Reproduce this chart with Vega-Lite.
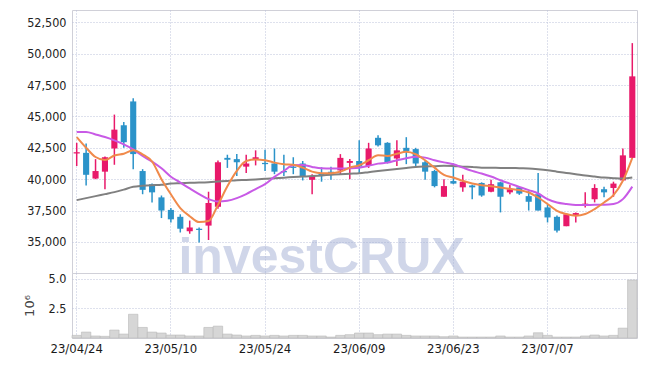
{
  "$schema": "https://vega.github.io/schema/vega-lite/v6.json",
  "padding": {"left": 22, "top": 9, "right": 9, "bottom": 5},
  "background": "white",
  "spacing": 0,
  "bounds": "flush",
  "config": {
    "view": {"stroke": "#d0d0d8", "strokeWidth": 1},
    "axis": {
      "labelFont": "DejaVu Sans Condensed, sans-serif",
      "labelColor": "#222222",
      "gridColor": "#bcc2da",
      "gridDash": [1, 2],
      "gridWidth": 1,
      "ticks": false,
      "domain": false
    }
  },
  "data": {"values": [
    {"d":"23/04/24","o":42050,"h":42900,"l":41050,"c":42150,"v":220000,"m5":43360,"m10":43760,"m60":38330},
    {"d":"23/04/25","o":42100,"h":42850,"l":39500,"c":40350,"v":500000,"m5":42510,"m10":43770,"m60":38490},
    {"d":"23/04/26","o":40050,"h":41600,"l":40000,"c":40650,"v":170000,"m5":41770,"m10":43570,"m60":38650},
    {"d":"23/04/27","o":40600,"h":41800,"l":39200,"c":41750,"v":140000,"m5":41530,"m10":43360,"m60":38810},
    {"d":"23/04/28","o":42450,"h":45150,"l":41150,"c":43950,"v":670000,"m5":41890,"m10":43100,"m60":38970},
    {"d":"23/05/02","o":44300,"h":44550,"l":42500,"c":42950,"v":330000,"m5":42030,"m10":42780,"m60":39170},
    {"d":"23/05/03","o":46200,"h":46450,"l":40800,"c":42000,"v":2000000,"m5":42300,"m10":42380,"m60":39390},
    {"d":"23/05/04","o":40650,"h":40800,"l":38800,"c":39150,"v":890000,"m5":41980,"m10":41850,"m60":39470},
    {"d":"23/05/08","o":39600,"h":39650,"l":38150,"c":38950,"v":500000,"m5":41410,"m10":41400,"m60":39520},
    {"d":"23/05/09","o":38550,"h":38700,"l":36900,"c":37500,"v":420000,"m5":40000,"m10":40870,"m60":39550},
    {"d":"23/05/10","o":37550,"h":37700,"l":36550,"c":36800,"v":250000,"m5":38800,"m10":40200,"m60":39650},
    {"d":"23/05/11","o":37000,"h":37200,"l":35750,"c":36050,"v":250000,"m5":37700,"m10":39730,"m60":39680},
    {"d":"23/05/12","o":35850,"h":36700,"l":35650,"c":36150,"v":170000,"m5":37050,"m10":39260,"m60":39710},
    {"d":"23/05/15","o":36050,"h":36150,"l":34950,"c":35950,"v":170000,"m5":36580,"m10":38810,"m60":39730},
    {"d":"23/05/16","o":36300,"h":39000,"l":35150,"c":38100,"v":890000,"m5":36660,"m10":38410,"m60":39760},
    {"d":"23/05/17","o":37800,"h":41500,"l":37650,"c":41350,"v":1000000,"m5":37950,"m10":38220,"m60":39810},
    {"d":"23/05/18","o":41700,"h":41950,"l":40900,"c":41550,"v":330000,"m5":39430,"m10":38280,"m60":39860},
    {"d":"23/05/19","o":41600,"h":42000,"l":40250,"c":41350,"v":250000,"m5":40660,"m10":38490,"m60":39920},
    {"d":"23/05/22","o":41000,"h":41950,"l":40500,"c":41250,"v":170000,"m5":41450,"m10":38810,"m60":39940},
    {"d":"23/05/23","o":41600,"h":42300,"l":41100,"c":41750,"v":220000,"m5":41560,"m10":39210,"m60":39980},
    {"d":"23/05/24","o":41300,"h":42350,"l":40650,"c":41200,"v":170000,"m5":41510,"m10":39600,"m60":40030},
    {"d":"23/05/25","o":41250,"h":42450,"l":40400,"c":40600,"v":220000,"m5":41320,"m10":40180,"m60":40080},
    {"d":"23/05/26","o":40650,"h":41950,"l":40250,"c":40550,"v":170000,"m5":41190,"m10":40660,"m60":40120},
    {"d":"23/05/30","o":41000,"h":41750,"l":40400,"c":40900,"v":220000,"m5":41150,"m10":41110,"m60":40170},
    {"d":"23/05/31","o":41250,"h":41450,"l":39900,"c":40200,"v":220000,"m5":40920,"m10":41130,"m60":40210},
    {"d":"23/06/01","o":39950,"h":40400,"l":38800,"c":40250,"v":170000,"m5":40600,"m10":40980,"m60":40250},
    {"d":"23/06/02","o":40450,"h":40950,"l":39800,"c":40250,"v":170000,"m5":40480,"m10":40870,"m60":40300},
    {"d":"23/06/05","o":40600,"h":41000,"l":39950,"c":40400,"v":80000,"m5":40480,"m10":40850,"m60":40350},
    {"d":"23/06/07","o":40700,"h":42000,"l":40400,"c":41700,"v":220000,"m5":40600,"m10":40850,"m60":40400},
    {"d":"23/06/08","o":41300,"h":41600,"l":40000,"c":41450,"v":280000,"m5":40920,"m10":40870,"m60":40440},
    {"d":"23/06/09","o":41450,"h":43100,"l":40500,"c":41000,"v":420000,"m5":41110,"m10":40920,"m60":40470},
    {"d":"23/06/12","o":41050,"h":42900,"l":40900,"c":42450,"v":420000,"m5":41510,"m10":41060,"m60":40560},
    {"d":"23/06/13","o":43300,"h":43500,"l":42600,"c":42700,"v":280000,"m5":41910,"m10":41240,"m60":40650},
    {"d":"23/06/14","o":42900,"h":42950,"l":41250,"c":41300,"v":330000,"m5":41850,"m10":41320,"m60":40730},
    {"d":"23/06/15","o":41650,"h":43100,"l":41050,"c":42300,"v":330000,"m5":42030,"m10":41510,"m60":40820},
    {"d":"23/06/16","o":42500,"h":43350,"l":41200,"c":42250,"v":220000,"m5":42190,"m10":41670,"m60":40900},
    {"d":"23/06/19","o":42400,"h":42500,"l":41050,"c":41250,"v":170000,"m5":41990,"m10":41790,"m60":40970},
    {"d":"23/06/20","o":41350,"h":41500,"l":39950,"c":40600,"v":170000,"m5":41510,"m10":41720,"m60":41010},
    {"d":"23/06/21","o":40650,"h":40750,"l":39350,"c":39450,"v":170000,"m5":40920,"m10":41510,"m60":41040},
    {"d":"23/06/22","o":38600,"h":40000,"l":38600,"c":39450,"v":110000,"m5":40340,"m10":41340,"m60":41080},
    {"d":"23/06/23","o":39850,"h":41250,"l":39600,"c":39650,"v":170000,"m5":40130,"m10":41190,"m60":41060},
    {"d":"23/06/26","o":39350,"h":40350,"l":39000,"c":39800,"v":80000,"m5":39870,"m10":40920,"m60":41000},
    {"d":"23/06/27","o":39500,"h":39550,"l":38400,"c":39350,"v":80000,"m5":39650,"m10":40660,"m60":40980},
    {"d":"23/06/28","o":39700,"h":39750,"l":38600,"c":38700,"v":80000,"m5":39520,"m10":40450,"m60":40920},
    {"d":"23/06/29","o":39000,"h":39950,"l":38950,"c":39600,"v":80000,"m5":39440,"m10":40210,"m60":40920},
    {"d":"23/06/30","o":39750,"h":39800,"l":37350,"c":38600,"v":170000,"m5":39330,"m10":39920,"m60":40900},
    {"d":"23/07/03","o":38950,"h":39550,"l":38800,"c":39200,"v":80000,"m5":39230,"m10":39650,"m60":40900},
    {"d":"23/07/04","o":39350,"h":39450,"l":38750,"c":38850,"v":80000,"m5":39130,"m10":39390,"m60":40870},
    {"d":"23/07/05","o":38650,"h":39050,"l":37500,"c":38200,"v":170000,"m5":38940,"m10":39130,"m60":40850},
    {"d":"23/07/06","o":38800,"h":40500,"l":37500,"c":37500,"v":440000,"m5":38540,"m10":38860,"m60":40790},
    {"d":"23/07/07","o":37750,"h":38000,"l":36550,"c":36950,"v":220000,"m5":38020,"m10":38410,"m60":40710},
    {"d":"23/07/10","o":37000,"h":37100,"l":35750,"c":35900,"v":80000,"m5":37480,"m10":38140,"m60":40600},
    {"d":"23/07/11","o":36250,"h":37300,"l":36250,"c":37200,"v":80000,"m5":37220,"m10":38020,"m60":40500},
    {"d":"23/07/12","o":37150,"h":37350,"l":36550,"c":37300,"v":80000,"m5":37090,"m10":37940,"m60":40400},
    {"d":"23/07/13","o":37900,"h":38950,"l":37750,"c":38050,"v":170000,"m5":37220,"m10":37940,"m60":40290},
    {"d":"23/07/14","o":38400,"h":39600,"l":38150,"c":39300,"v":250000,"m5":37620,"m10":37960,"m60":40210},
    {"d":"23/07/17","o":39200,"h":39400,"l":38550,"c":38950,"v":170000,"m5":38140,"m10":37960,"m60":40130},
    {"d":"23/07/18","o":39300,"h":39800,"l":38600,"c":39650,"v":220000,"m5":38730,"m10":38020,"m60":40080},
    {"d":"23/07/19","o":39900,"h":42450,"l":39900,"c":41900,"v":830000,"m5":39870,"m10":38410,"m60":40050},
    {"d":"23/07/20","o":41700,"h":50850,"l":41700,"c":48200,"v":4890000,"m5":41700,"m10":39410,"m60":40130}
  ]},
  "vconcat": [
    {
      "width": 565,
      "height": 263,
      "encoding": {
        "x": {
          "field": "d", "type": "ordinal",
          "scale": {"paddingInner": 0, "paddingOuter": 0},
          "axis": {"labels": false, "title": null, "grid": true, "bandPosition": 0.5,
                   "values": ["23/04/24","23/05/10","23/05/24","23/06/09","23/06/23","23/07/07"]}
        }
      },
      "layer": [
        {
          "data": {"values": [{}]},
          "mark": {"type": "text", "text": "investCRUX", "font": "Liberation Sans, Arial, sans-serif", "fontWeight": "bold", "fontSize": 50, "fill": "#a2aed5", "opacity": 0.5, "align": "center", "baseline": "alphabetic"},
          "encoding": {
            "x": {"datum": "23/06/02", "type": "ordinal"},
            "y": {"datum": 32520, "type": "quantitative",
                  "scale": {"domain": [32520, 53490], "nice": false, "zero": false},
                  "axis": {"title": null, "values": [35000, 37500, 40000, 42500, 45000, 47500, 50000, 52500], "labelExpr": "format(datum.value, ',')", "labelFontSize": 12.5, "labelPadding": 6, "grid": true}}
          }
        },
        {
          "mark": {"type": "rule", "strokeWidth": 1.5},
          "encoding": {
            "y": {"field": "l", "type": "quantitative",
                  "axis": {"title": null, "values": [35000, 37500, 40000, 42500, 45000, 47500, 50000, 52500], "labelExpr": "format(datum.value, ',')", "labelFontSize": 12.5, "labelPadding": 6, "grid": true}},
            "y2": {"field": "h"},
            "color": {"condition": {"test": "datum.c >= datum.o", "value": "#e8196a"}, "value": "#2b93c9"}
          }
        },
        {
          "mark": {"type": "bar", "width": {"band": 0.65}},
          "encoding": {
            "y": {"field": "o", "type": "quantitative",
                  "axis": {"title": null, "values": [35000, 37500, 40000, 42500, 45000, 47500, 50000, 52500], "labelExpr": "format(datum.value, ',')", "labelFontSize": 12.5, "labelPadding": 6, "grid": true}},
            "y2": {"field": "c"},
            "color": {"condition": {"test": "datum.c >= datum.o", "value": "#e8196a"}, "value": "#2b93c9"}
          }
        },
        {
          "mark": {"type": "line", "color": "#808080", "strokeWidth": 2, "interpolate": "monotone"},
          "encoding": {"y": {"field": "m60", "type": "quantitative",
                  "axis": {"title": null, "values": [35000, 37500, 40000, 42500, 45000, 47500, 50000, 52500], "labelExpr": "format(datum.value, ',')", "labelFontSize": 12.5, "labelPadding": 6, "grid": true}}}
        },
        {
          "mark": {"type": "line", "color": "#c85ae6", "strokeWidth": 2, "interpolate": "monotone"},
          "encoding": {"y": {"field": "m10", "type": "quantitative",
                  "axis": {"title": null, "values": [35000, 37500, 40000, 42500, 45000, 47500, 50000, 52500], "labelExpr": "format(datum.value, ',')", "labelFontSize": 12.5, "labelPadding": 6, "grid": true}}}
        },
        {
          "mark": {"type": "line", "color": "#f08a4b", "strokeWidth": 2, "interpolate": "monotone"},
          "encoding": {"y": {"field": "m5", "type": "quantitative",
                  "axis": {"title": null, "values": [35000, 37500, 40000, 42500, 45000, 47500, 50000, 52500], "labelExpr": "format(datum.value, ',')", "labelFontSize": 12.5, "labelPadding": 6, "grid": true}}}
        }
      ]
    },
    {
      "width": 565,
      "height": 65,
      "mark": {"type": "bar", "fill": "#d6d6d6", "stroke": "#b8b8b8", "strokeWidth": 0.6, "width": {"band": 1}},
      "encoding": {
        "x": {
          "field": "d", "type": "ordinal",
          "scale": {"paddingInner": 0, "paddingOuter": 0},
          "axis": {"title": null, "grid": true, "bandPosition": 0.5, "labelAngle": 0, "labelFontSize": 13, "labelPadding": 4, "labelColor": "#1a1a1a",
                   "values": ["23/04/24","23/05/10","23/05/24","23/06/09","23/06/23","23/07/07"]}
        },
        "y": {
          "field": "v", "type": "quantitative",
          "scale": {"domain": [0, 5480000], "nice": false},
          "axis": {"values": [2500000, 5000000], "labelExpr": "format(datum.value / 1000000, '.1f')", "labelFontSize": 12.5, "labelPadding": 6, "grid": true,
                   "title": "10⁶", "titleFont": "DejaVu Sans", "titleFontSize": 13, "titleFontWeight": "normal", "titleColor": "#444444", "titlePadding": 12}
        }
      }
    }
  ]
}
